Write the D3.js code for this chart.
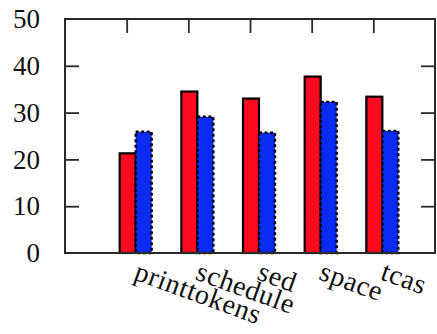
<!DOCTYPE html>
<html>
<head>
<meta charset="utf-8">
<script src="https://cdn.jsdelivr.net/npm/d3@7"></script>
<style>
  html, body { margin: 0; padding: 0; background: #fff; }
  svg { display: block; }
</style>
</head>
<body>
<svg id="chart" width="437" height="334"></svg>
<script>
const categories = ["printtokens", "schedule", "sed", "space", "tcas"];
const seriesRed  = [21.3, 34.5, 33.0, 37.7, 33.4];
const seriesBlue = [25.9, 29.1, 25.7, 32.3, 26.1];
const yTicks = [0, 10, 20, 30, 40, 50];

const svg = d3.select("#chart");
const plotL = 65, plotR = 435, plotT = 19, plotB = 253;

const x = d3.scaleLinear().domain([0, categories.length + 1]).range([plotL, plotR]);
const y = d3.scaleLinear().domain([0, 50]).range([plotB, plotT]);

const font = "'Liberation Serif', 'DejaVu Serif', serif";
const axisColor = "#2a2a2a";
const barW = 16;

// Bars
const g = svg.append("g");
categories.forEach((c, i) => {
  const cx = x(i + 1);
  g.append("rect")
    .attr("x", cx - 7).attr("y", y(seriesRed[i]))
    .attr("width", barW).attr("height", y(0) - y(seriesRed[i]))
    .attr("fill", "#ff0a1e").attr("stroke", "#000").attr("stroke-width", 2.2);
  g.append("rect")
    .attr("x", cx - 7 + barW).attr("y", y(seriesBlue[i]))
    .attr("width", barW).attr("height", y(0) - y(seriesBlue[i]))
    .attr("fill", "#0a2af5").attr("stroke", "#000").attr("stroke-width", 2.4)
    .attr("stroke-dasharray", "3,2.5");
});

// Frame
svg.append("rect")
  .attr("x", plotL).attr("y", plotT)
  .attr("width", plotR - plotL).attr("height", plotB - plotT)
  .attr("fill", "none").attr("stroke", axisColor).attr("stroke-width", 2);

// Y ticks left & right
const inner = yTicks.filter(v => v > 0 && v < 50);
const gl = svg.append("g").attr("transform", `translate(${plotL},0)`)
  .call(d3.axisRight(y).tickValues(inner).tickSize(14).tickFormat(""));
const gr = svg.append("g").attr("transform", `translate(${plotR},0)`)
  .call(d3.axisLeft(y).tickValues(inner).tickSize(14).tickFormat(""));

// Top ticks
const xTickVals = categories.map((c, i) => i + 1);
const gt = svg.append("g").attr("transform", `translate(0,${plotT})`)
  .call(d3.axisBottom(x).tickValues(xTickVals).tickSize(14).tickFormat(""));

[gl, gr, gt].forEach(a => {
  a.select(".domain").remove();
  a.selectAll("line").attr("stroke", axisColor).attr("stroke-width", 1.8);
});

// Y labels
svg.append("g").selectAll("text").data(yTicks).join("text")
  .attr("x", 40).attr("y", d => y(d))
  .attr("dy", "0.34em")
  .attr("text-anchor", "end")
  .attr("font-family", font).attr("font-size", 27)
  .attr("fill", "#111")
  .text(d => d);

// X labels, rotated
svg.append("g").selectAll("text").data(categories).join("text")
  .attr("transform", (d, i) => `translate(${x(i + 1) + 6},279) rotate(20)`)
  .attr("text-anchor", "start")
  .attr("font-family", font).attr("font-size", 28)
  .attr("letter-spacing", 0.6)
  .attr("fill", "#111")
  .text(d => d);
</script>
</body>
</html>
